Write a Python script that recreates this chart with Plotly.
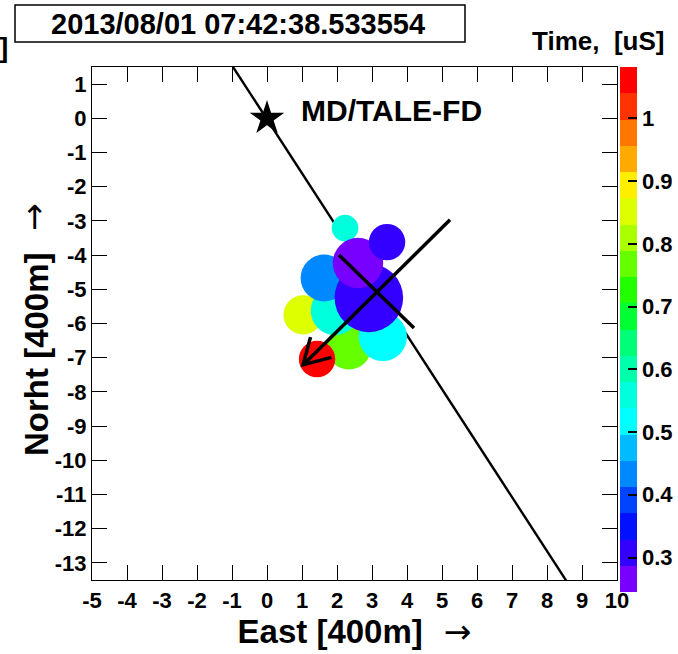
import math
import plotly.graph_objects as go

# ---------------- data ----------------
east = [2.34, 3.31, 1.03, 1.94, 1.63, 2.23, 2.91, 2.60, 3.43, 1.43]
north = [-6.69, -6.39, -5.75, -5.63, -4.67, -3.21, -5.25, -4.23, -3.62, -7.04]
radius = [0.64, 0.69, 0.56, 0.69, 0.67, 0.38, 0.98, 0.72, 0.52, 0.52]
time_us = [0.77, 0.52, 0.84, 0.57, 0.44, 0.57, 0.30, 0.26, 0.29, 1.07]

sdp_east = [-0.97, 8.6]
sdp_north = [1.5, -13.6]
core_east = [2.06, 4.20]
core_north = [-4.00, -6.13]
axis_tail = [5.23, -2.97]
axis_tip = [1.03, -7.21]
fd_east = [0.0]
fd_north = [0.0]

x_ticks = list(range(-5, 11))
y_ticks = list(range(-13, 2))
cb_ticks = [0.3, 0.4, 0.5, 0.6, 0.7, 0.8, 0.9, 1.0]
cb_labels = ["0.3", "0.4", "0.5", "0.6", "0.7", "0.8", "0.9", "1"]
t_min, t_max = 0.245, 1.082

band_colors = ["#7700FF", "#3300FF", "#0011FF", "#0044FF", "#0088FF",
               "#00BBFF", "#00FFFF", "#00FFDD", "#00FFAA", "#00FF77",
               "#00FF33", "#22FF00", "#66FF00", "#AAFF00", "#DDFF00",
               "#FFEE00", "#FFAA00", "#FF7700", "#FF3300", "#FF0000"]

title_text = "2013/08/01 07:42:38.533554"
site_label = "MD/TALE-FD"

# ---------------- layout geometry ----------------
W, H = 678, 654
ML, MR, MT, MB = 92, 61, 67, 74
plot_w = W - ML - MR
plot_h = H - MT - MB
x_range = [-5, 10]
y_range = [-13.5, 1.5]
px_per_unit = plot_w / (x_range[1] - x_range[0])

n = len(band_colors)
colorscale = []
for i, c in enumerate(band_colors):
    colorscale.append([i / n, c])
    colorscale.append([(i + 1) / n, c])

FONT = "Liberation Sans"
ARROW = "<span style='font-family:DejaVu Sans;font-weight:normal'>&nbsp;&nbsp;→</span>"

fig = go.Figure()

# shower-detector-plane line
fig.add_trace(go.Scatter(x=sdp_east, y=sdp_north, mode="lines",
                         line=dict(color="black", width=2.4),
                         hoverinfo="skip", showlegend=False))

# hit circles
fig.add_trace(go.Scatter(
    x=east, y=north, mode="markers",
    marker=dict(size=[2 * r * px_per_unit for r in radius],
                color=time_us, cmin=t_min, cmax=t_max,
                colorscale=colorscale, opacity=1,
                line=dict(width=0),
                colorbar=dict(
                    thickness=17, x=(620 - ML) / plot_w, xanchor="left",
                    xpad=0, y=1, yanchor="top", ypad=0,
                    lenmode="pixels", len=525,
                    outlinewidth=0,
                    tickvals=cb_ticks, ticktext=cb_labels,
                    ticks="inside", ticklen=9, tickcolor="black", tickwidth=1.5,
                    tickfont=dict(family=FONT, size=22, color="black", weight="bold"),
                )),
    hoverinfo="skip", showlegend=False))

# core line
fig.add_trace(go.Scatter(x=core_east, y=core_north, mode="lines",
                         line=dict(color="black", width=3.5),
                         hoverinfo="skip", showlegend=False))

# shower axis arrow
dx = axis_tail[0] - axis_tip[0]
dy = axis_tail[1] - axis_tip[1]
ang = math.atan2(dy, dx)
head_len = 0.84
half = math.radians(30)
a1 = (axis_tip[0] + head_len * math.cos(ang + half), axis_tip[1] + head_len * math.sin(ang + half))
a2 = (axis_tip[0] + head_len * math.cos(ang - half), axis_tip[1] + head_len * math.sin(ang - half))
fig.add_trace(go.Scatter(x=[axis_tail[0], axis_tip[0]], y=[axis_tail[1], axis_tip[1]],
                         mode="lines", line=dict(color="black", width=3.5),
                         hoverinfo="skip", showlegend=False))
fig.add_trace(go.Scatter(x=[a1[0], axis_tip[0], a2[0]], y=[a1[1], axis_tip[1], a2[1]],
                         mode="lines", line=dict(color="black", width=3.5),
                         hoverinfo="skip", showlegend=False))

# FD site star
fig.add_trace(go.Scatter(x=fd_east, y=fd_north, mode="markers",
                         marker=dict(symbol="star", size=26, color="black",
                                     line=dict(width=0)),
                         hoverinfo="skip", showlegend=False))

fig.add_annotation(x=0.90, y=0.24, xref="x", yref="y", text=site_label,
                   showarrow=False, xanchor="left", yanchor="middle",
                   font=dict(family=FONT, size=30, color="black", weight="bold"))


def px_x(p):
    return (p - ML) / plot_w


def px_y(p):
    return (H - MB - p) / plot_h


# title box
fig.add_shape(type="rect", xref="paper", yref="paper",
              x0=px_x(15), x1=px_x(465), y0=px_y(42), y1=px_y(5),
              line=dict(color="black", width=1.5), fillcolor="white")
fig.add_annotation(x=px_x(238), y=px_y(23.5), xref="paper", yref="paper",
                   text=title_text, showarrow=False, xanchor="center", yanchor="middle",
                   font=dict(family=FONT, size=29, color="black", weight="bold"))
fig.add_annotation(x=px_x(666), y=px_y(41), xref="paper", yref="paper",
                   text="Time,&nbsp;&nbsp;[uS]", showarrow=False, xanchor="right", yanchor="middle",
                   font=dict(family=FONT, size=26, color="black", weight="bold"))
fig.add_annotation(x=px_x(-3), y=px_y(47), xref="paper", yref="paper",
                   text="]", showarrow=False, xanchor="left", yanchor="middle",
                   font=dict(family=FONT, size=28, color="black", weight="bold"))

# y-axis title as rotated annotation plus upright arrow
fig.add_annotation(x=px_x(36), y=px_y(354), xref="paper", yref="paper",
                   text="Norht [400m]", showarrow=False, textangle=-90,
                   xanchor="center", yanchor="middle",
                   font=dict(family=FONT, size=33, color="black", weight="bold"))
fig.add_annotation(x=px_x(35), y=px_y(217), xref="paper", yref="paper",
                   text="↑", showarrow=False,
                   xanchor="center", yanchor="middle",
                   font=dict(family="DejaVu Sans", size=33, color="black"))

axis_common = dict(showline=True, linecolor="black", linewidth=1.2, mirror="ticks",
                   ticks="inside", ticklen=15, tickcolor="black", tickwidth=1.2,
                   showgrid=False, zeroline=False,
                   tickfont=dict(family=FONT, size=22, color="black", weight="bold"))

fig.update_layout(
    width=W, height=H,
    margin=dict(l=ML, r=MR, t=MT, b=MB, autoexpand=False),
    paper_bgcolor="white", plot_bgcolor="white",
    xaxis=dict(range=x_range, tickvals=x_ticks, ticktext=[str(v) for v in x_ticks],
               title=dict(text="East [400m]" + ARROW, standoff=4,
                          font=dict(family=FONT, size=33, color="black", weight="bold")),
               **axis_common),
    yaxis=dict(range=y_range, tickvals=y_ticks, ticktext=[str(v) for v in y_ticks],
               **axis_common),
)

fig.write_html("out.html", config={"displayModeBar": False},
               post_script="document.body.style.margin='0';document.body.style.padding='0';")
